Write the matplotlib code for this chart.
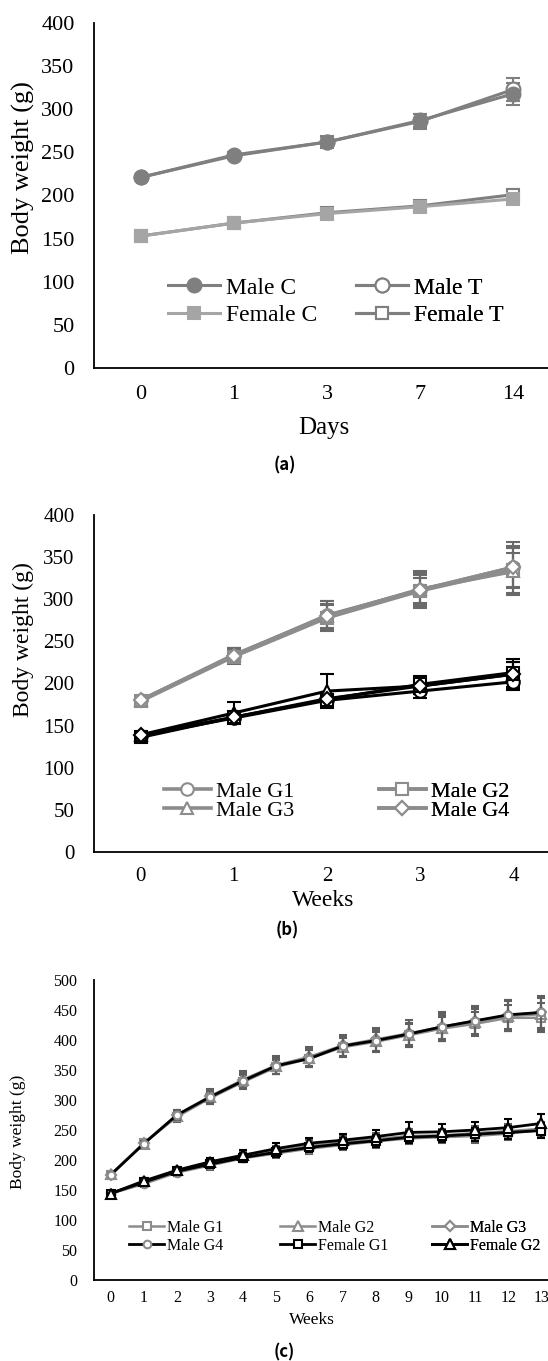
import matplotlib
matplotlib.use("Agg")
import matplotlib.pyplot as plt
import numpy as np

plt.rcParams['font.family'] = ['Liberation Serif', 'DejaVu Serif']

W, H = 548, 1361

# ---- panel (a) data ----
days = ['0', '1', '3', '7', '14']
male_c = [221, 247, 262, 287, 318]
male_t = [221, 246, 262, 286, 323]
female_c = [153, 168, 179, 187, 196]
female_t = [153, 168, 180, 188, 201]
male_c_sd = [3, 4, 6, 8, 13]
male_t_sd = [3, 4, 7, 9, 13]
female_c_sd = [2, 3, 3, 4, 5]
female_t_sd = [2, 3, 4, 4, 6]

# ---- panel (b) data ----
weeks_b = ['0', '1', '2', '3', '4']
b_male = {
    'Male G1': [180, 233, 281, 311, 338],
    'Male G2': [179, 232, 278, 310, 335],
    'Male G3': [180, 234, 280, 312, 333],
    'Male G4': [180, 233, 280, 311, 338],
}
b_male_sd = {
    'Male G1': [4, 9, 17, 20, 30],
    'Male G2': [4, 9, 15, 15, 20],
    'Male G3': [4, 8, 14, 22, 28],
    'Male G4': [4, 9, 18, 18, 25],
}
b_female = {
    'Female G1': [138, 159, 180, 191, 202],
    'Female G2': [136, 160, 181, 199, 213],
    'Female G3': [139, 165, 191, 197, 211],
    'Female G4': [139, 160, 182, 197, 211],
}
b_female_sd = {
    'Female G1': [4, 5, 6, 8, 10],
    'Female G2': [4, 5, 6, 10, 12],
    'Female G3': [4, 13, 20, 10, 15],
    'Female G4': [4, 5, 6, 9, 18],
}

# ---- panel (c) data ----
weeks_c = [str(i) for i in range(14)]
c_male = {
    'Male G1': [175, 228, 272, 303, 330, 355, 369, 388, 397, 408, 419, 427, 437, 437],
    'Male G2': [176, 227, 274, 305, 333, 357, 370, 389, 399, 409, 420, 430, 440, 443],
    'Male G3': [175, 228, 275, 306, 334, 358, 372, 391, 401, 411, 422, 432, 441, 446],
    'Male G4': [175, 227, 275, 305, 332, 357, 369, 390, 399, 410, 422, 432, 442, 446],
}
c_male_sd = {
    'Male G1': [4, 5, 8, 10, 12, 12, 14, 16, 17, 18, 20, 20, 22, 24],
    'Male G2': [4, 5, 7, 11, 13, 14, 15, 17, 19, 20, 22, 22, 25, 27],
    'Male G3': [4, 5, 8, 12, 14, 15, 16, 18, 19, 22, 24, 24, 26, 28],
    'Male G4': [4, 5, 8, 10, 12, 13, 14, 16, 17, 18, 21, 22, 24, 26],
}
c_female = {
    'Female G1': [144, 163, 181, 193, 204, 213, 221, 227, 232, 238, 240, 243, 246, 249],
    'Female G2': [144, 165, 183, 197, 208, 219, 228, 233, 239, 246, 247, 250, 254, 261],
    'Female G3': [144, 160, 179, 191, 203, 211, 219, 225, 231, 236, 238, 240, 244, 250],
    'Female G4': [145, 162, 180, 195, 205, 216, 224, 230, 235, 240, 241, 245, 248, 252],
}
c_female_sd = {
    'Female G1': [4, 5, 6, 7, 7, 8, 8, 9, 10, 10, 10, 11, 11, 12],
    'Female G2': [4, 5, 6, 7, 8, 9, 9, 10, 11, 17, 13, 13, 14, 15],
    'Female G3': [4, 5, 6, 7, 7, 8, 9, 9, 11, 10, 10, 12, 11, 11],
    'Female G4': [4, 5, 6, 7, 8, 8, 9, 10, 10, 11, 11, 11, 12, 12],
}

fig = plt.figure(figsize=(W / 100, H / 100), dpi=100)


def px_axes(left, top, right, bottom):
    return fig.add_axes([left / W, 1 - bottom / H, (right - left) / W, (bottom - top) / H])


def style_axes(ax, n, ymax, step, fs, xpad, ypad):
    ax.set_xlim(-0.5, n - 0.5)
    ax.set_ylim(0, ymax)
    ax.set_yticks(np.arange(0, ymax + 1, step))
    for s in ['top', 'right']:
        ax.spines[s].set_visible(False)
    for s in ['left', 'bottom']:
        ax.spines[s].set_linewidth(1.3)
        ax.spines[s].set_color('black')
    ax.tick_params(axis='x', length=0, pad=xpad, labelsize=fs)
    ax.tick_params(axis='y', length=0, pad=ypad, labelsize=fs)


def column_legend(ax, handles, labels, x, y, fs, hl, tp, ls):
    leg = ax.legend(handles, labels, loc='upper left',
                    bbox_to_anchor=(x / W, 1 - y / H), bbox_transform=fig.transFigure,
                    frameon=False, fontsize=fs, handlelength=hl, handletextpad=tp,
                    labelspacing=ls, borderpad=0, borderaxespad=0)
    ax.add_artist(leg)


def series(ax, x, y, err, color, marker, mfc, ms, lw, cap, ecolor=None, mec=None, z=2):
    eb = ax.errorbar(x, y, yerr=err, color=color, marker=marker, mfc=mfc,
                     mec=mec if mec else color, ms=ms, lw=lw, mew=1.5,
                     ecolor=ecolor if ecolor else color, elinewidth=1.5,
                     capsize=cap, capthick=2, zorder=z)
    return eb[0]

# ================= (a) =================
ax1 = px_axes(94, 23, 560, 368)
g1 = '#7f7f7f'
g2 = '#a5a5a5'
h_ft = series(ax1, days, female_t, female_t_sd, g1, 's', 'white', 9, 2.2, 5)
h_fc = series(ax1, days, female_c, female_c_sd, g2, 's', g2, 8, 2.2, 5)
h_mt = series(ax1, days, male_t, male_t_sd, g1, 'o', 'white', 10, 2.2, 5)
h_mc = series(ax1, days, male_c, male_c_sd, g1, 'o', g1, 10, 2.2, 5)
style_axes(ax1, len(days), 400, 50, 16, 12.5, 14)
column_legend(ax1, [h_mc, h_fc], ['Male C', 'Female C'], 168, 277, 17, 2.2, 0.25, 0.25)
column_legend(ax1, [h_mt, h_ft], ['Male T', 'Female T'], 356, 277, 17, 2.2, 0.25, 0.25)
fig.text(23 / W, 1 - 168 / H, 'Body weight (g)', rotation=90, ha='center', va='center', fontsize=19)
fig.text(324 / W, 1 - 428 / H, 'Days', ha='center', va='center', fontsize=18)
fig.text(285 / W, 1 - 465 / H, '(a)', ha='center', va='center', fontsize=12,
         family=['Noto Sans CJK KR', 'DejaVu Sans'], weight='bold')

# ================= (b) =================
ax2 = px_axes(94, 515, 560, 852)
gb = '#8c8c8c'
gbe = '#6a6a6a'
b_markers = {'Male G1': 'o', 'Male G2': 's', 'Male G3': '^', 'Male G4': 'D'}
f_markers = {'Female G1': 'o', 'Female G2': 's', 'Female G3': '^', 'Female G4': 'D'}
b_handles = {}
for name, vals in b_female.items():
    m = f_markers[name]
    series(ax2, weeks_b, vals, b_female_sd[name], 'black', m, 'white',
           7 if m == 'D' else 9, 2.2, 5, z=3)
for name, vals in b_male.items():
    m = b_markers[name]
    b_handles[name] = series(ax2, weeks_b, vals, b_male_sd[name], gb, m, 'white',
                             7 if m == 'D' else 9, 2.6, 5, ecolor=gbe)
style_axes(ax2, len(weeks_b), 400, 50, 15, 10.5, 14)
column_legend(ax2, [b_handles['Male G1'], b_handles['Male G3']], ['Male G1', 'Male G3'],
              164, 781, 16, 2.1, 0.25, -0.05)
column_legend(ax2, [b_handles['Male G2'], b_handles['Male G4']], ['Male G2', 'Male G4'],
              379, 781, 16, 2.1, 0.25, -0.05)
fig.text(23 / W, 1 - 640 / H, 'Body weight (g)', rotation=90, ha='center', va='center', fontsize=17)
fig.text(323 / W, 1 - 900 / H, 'Weeks', ha='center', va='center', fontsize=17)
fig.text(287 / W, 1 - 930 / H, '(b)', ha='center', va='center', fontsize=12,
         family=['Noto Sans CJK KR', 'DejaVu Sans'], weight='bold')

# ================= (c) =================
ax3 = px_axes(94, 980, 558, 1280)
gc = '#8c8c8c'
gce = '#5f5f5f'
h = {}
h['Female G3'] = series(ax3, weeks_c, c_female['Female G3'], c_female_sd['Female G3'], gc, 'o', 'white', 5.5, 1.8, 3, ecolor=gce)
h['Female G4'] = series(ax3, weeks_c, c_female['Female G4'], c_female_sd['Female G4'], gc, 'D', 'white', 4.5, 1.8, 3, ecolor=gce)
h['Female G1'] = series(ax3, weeks_c, c_female['Female G1'], c_female_sd['Female G1'], 'black', 's', 'white', 6, 2.0, 3, z=3)
h['Female G2'] = series(ax3, weeks_c, c_female['Female G2'], c_female_sd['Female G2'], 'black', '^', 'white', 6.5, 2.0, 3, z=3)
h['Male G1'] = series(ax3, weeks_c, c_male['Male G1'], c_male_sd['Male G1'], gc, 's', 'white', 6, 1.8, 3, ecolor=gce)
h['Male G2'] = series(ax3, weeks_c, c_male['Male G2'], c_male_sd['Male G2'], gc, '^', 'white', 6.5, 1.8, 3, ecolor=gce)
h['Male G3'] = series(ax3, weeks_c, c_male['Male G3'], c_male_sd['Male G3'], gc, 'D', 'white', 5, 1.8, 3, ecolor=gce)
h['Male G4'] = series(ax3, weeks_c, c_male['Male G4'], c_male_sd['Male G4'], 'black', 'o', 'white', 5.5, 2.0, 3,
                      ecolor=gce, mec=gc, z=3)
style_axes(ax3, len(weeks_c), 500, 50, 11.5, 7, 12)
column_legend(ax3, [h['Male G1'], h['Male G4']], ['Male G1', 'Male G4'], 129, 1220, 11.5, 2.2, 0.2, 0.1)
column_legend(ax3, [h['Male G2'], h['Female G1']], ['Male G2', 'Female G1'], 280, 1220, 11.5, 2.2, 0.2, 0.1)
column_legend(ax3, [h['Male G3'], h['Female G2']], ['Male G3', 'Female G2'], 432, 1220, 11.5, 2.2, 0.2, 0.1)
fig.text(18 / W, 1 - 1132 / H, 'Body weight (g)', rotation=90, ha='center', va='center', fontsize=12.5)
fig.text(312 / W, 1 - 1320 / H, 'Weeks', ha='center', va='center', fontsize=12.5)
fig.text(284 / W, 1 - 1352 / H, '(c)', ha='center', va='center', fontsize=12,
         family=['Noto Sans CJK KR', 'DejaVu Sans'], weight='bold')

fig.savefig('out.png', dpi=100)
